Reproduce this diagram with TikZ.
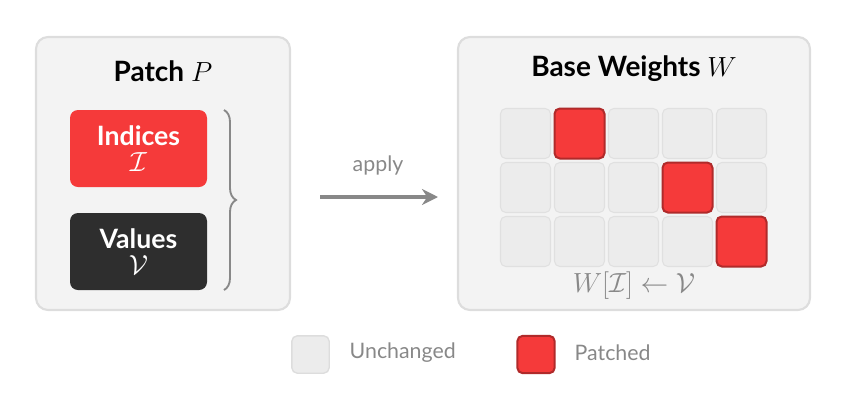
\documentclass[tikz,border=0pt]{standalone}
\usepackage{fontspec}
\setmainfont{Lato}
\setsansfont{Lato}
\usetikzlibrary{decorations.pathreplacing,arrows.meta}
\definecolor{panel}{HTML}{F3F3F3}
\definecolor{panelb}{HTML}{DDDDDD}
\definecolor{pred}{HTML}{F53A3A}
\definecolor{predb}{HTML}{B02A2A}
\definecolor{cellg}{HTML}{ECECEC}
\definecolor{cellb}{HTML}{E0E0E0}
\definecolor{dark}{HTML}{2E2E2E}
\definecolor{gtxt}{HTML}{888888}
\begin{document}
\begin{tikzpicture}[x=0.75pt,y=-0.75pt,
  panelst/.style={draw=panelb,fill=panel,line width=1.6pt,rounded corners=9pt},
  title/.style={font=\fontsize{21}{24}\selectfont\bfseries,text=black},
  box/.style={minimum width=102.75pt,minimum height=57.75pt,rounded corners=6pt,align=center,text=white,font=\fontsize{20}{20}\selectfont\bfseries,inner sep=0pt},
  cell/.style={minimum size=37.5pt,inner sep=0pt,rounded corners=4pt,draw=cellb,fill=cellg,line width=0.8pt},
  rcell/.style={cell,draw=predb,fill=pred,line width=1.5pt},
  gtext/.style={text=gtxt,font=\fontsize{16}{18}\selectfont}]
\useasboundingbox (0,0) rectangle (846,411);
\path[panelst] (36,37) rectangle (290,310);
\path[panelst] (458,37) rectangle (810,310);
\node[title] (pt) at (163,71) {Patch $P$};
\node[title] (bt) at (634,69) {Base Weights $W$};
\node[box,fill=pred] (ind) at (138.5,148.5) {Indices\\[-1pt]\mdseries$\mathcal{I}$};
\node[box,fill=dark] (val) at (138.5,251.5) {Values\\[-1pt]\mdseries$\mathcal{V}$};
\draw[gtxt,line width=1.4pt,decorate,decoration={brace,amplitude=9pt}] (224,110) -- (224,290);
\coordinate (a1) at (320,197);
\coordinate (a2) at (438,197);
\draw[gtxt,line width=2.4pt,-{Stealth[length=12pt,width=12pt]}] (a1) -- (a2);
\node[gtext] (ap) at (378,165) {apply};
\foreach \r in {0,1,2}{\foreach \c in {0,...,4}{
  \node[cell] (c\r\c) at (525.5+54*\c,133.5+54*\r) {};}}
\node[rcell] (r1) at (c01) {};
\node[rcell] (r2) at (c13) {};
\node[rcell] (r3) at (c24) {};
\node[text=gtxt,font=\fontsize{22}{22}\selectfont] (f) at (634,286) {$W[\mathcal{I}]\leftarrow\mathcal{V}$};
\node[cell,minimum size=28pt,line width=1pt,draw=panelb] (lg) at (310.5,354.5) {};
\node[gtext,anchor=west] (lgt) at (345,353) {Unchanged};
\node[rcell,minimum size=28pt] (lr) at (536,354.5) {};
\node[gtext,anchor=west] (lrt) at (570,353) {Patched};
\end{tikzpicture}
\end{document}
